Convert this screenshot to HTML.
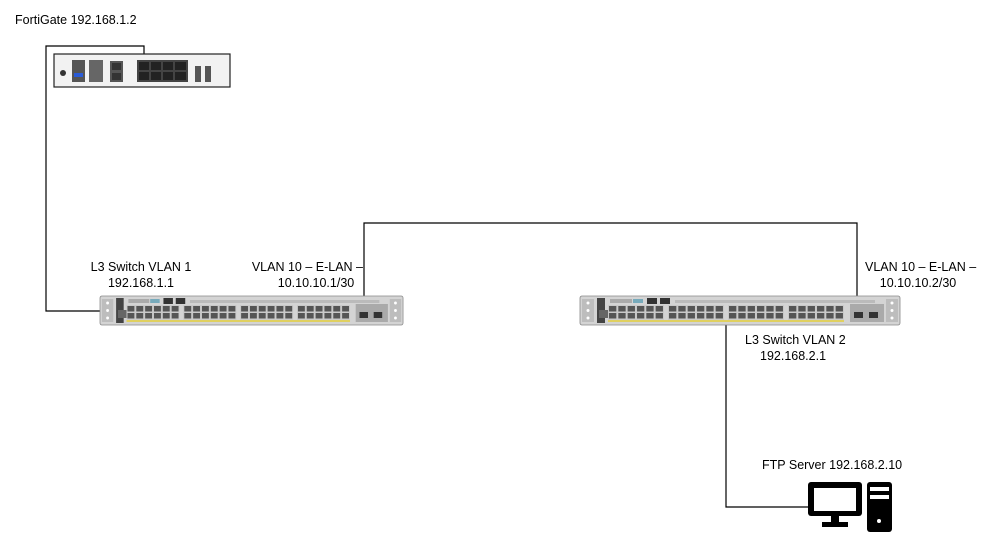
<!DOCTYPE html>
<html><head><meta charset="utf-8"><style>
html,body{margin:0;padding:0;background:#fff;}
svg{display:block;font-family:"Liberation Sans",sans-serif;font-size:12.5px;}
</style></head><body>
<svg width="999" height="558" viewBox="0 0 999 558" xmlns="http://www.w3.org/2000/svg">
<defs>
<pattern id="ports" x="0" y="0" width="9.33" height="15" patternUnits="userSpaceOnUse">
<rect width="9.33" height="15" fill="#c9c9c9"/>
<rect x="1" y="1" width="7.3" height="5.5" fill="#555"/>
<rect x="1" y="8" width="7.3" height="5.5" fill="#555"/>
</pattern>
<g id="sw">
<rect x="0" y="0" width="320" height="29" rx="2" fill="#d4d4d4" stroke="#888" stroke-width="0.8"/>
<rect x="2" y="3" width="12" height="23" fill="#bdbdbd"/>
<rect x="306" y="3" width="12" height="23" fill="#bdbdbd"/>
<circle cx="8" cy="7" r="1.5" fill="#fff"/><circle cx="8" cy="14.5" r="1.5" fill="#fff"/><circle cx="8" cy="22" r="1.5" fill="#fff"/>
<circle cx="312" cy="7" r="1.5" fill="#fff"/><circle cx="312" cy="14.5" r="1.5" fill="#fff"/><circle cx="312" cy="22" r="1.5" fill="#fff"/>
<rect x="17" y="2" width="8" height="25" fill="#444"/>
<rect x="19" y="14" width="10" height="8" fill="#666"/>
<rect x="30" y="3" width="22" height="4" fill="#aaa"/>
<rect x="53" y="3" width="10" height="4" fill="#7ab"/>
<rect x="67" y="2" width="10" height="6" fill="#333"/>
<rect x="80" y="2" width="10" height="6" fill="#333"/>
<rect x="95" y="4" width="200" height="3" fill="#bbb"/>
<g transform="translate(28,9)"><rect width="56" height="15" fill="url(#ports)"/></g>
<g transform="translate(88,9)"><rect width="56" height="15" fill="url(#ports)"/></g>
<g transform="translate(148,9)"><rect width="56" height="15" fill="url(#ports)"/></g>
<g transform="translate(208,9)"><rect width="56" height="15" fill="url(#ports)"/></g>
<rect x="28" y="24" width="236" height="2" fill="#e0d060"/>
<rect x="270" y="8" width="34" height="18" fill="#aaa"/>
<rect x="274" y="16" width="9" height="6" fill="#333"/>
<rect x="289" y="16" width="9" height="6" fill="#333"/>
</g>
</defs>
<g fill="none" stroke="#000" stroke-width="1.2">
<polyline points="144,62 144,46 46,46 46,311 112,311"/>
<polyline points="364,318 364,223 857,223 857,316"/>
<polyline points="726,318 726,507 808,507"/>
</g>
<!-- FortiGate -->
<rect x="54" y="54" width="176" height="33" fill="#f2f2f2" stroke="#222" stroke-width="1.2"/>
<circle cx="63" cy="73" r="3" fill="#333"/>
<rect x="72" y="60" width="13" height="22" fill="#555"/>
<rect x="74" y="73" width="9" height="4" fill="#2a5bd7"/>
<rect x="89" y="60" width="14" height="22" fill="#666"/>
<rect x="110" y="61" width="13" height="21" fill="#555"/>
<rect x="112" y="63" width="9" height="7" fill="#333"/><rect x="112" y="73" width="9" height="7" fill="#333"/>
<rect x="137" y="60" width="51" height="22" fill="#444"/>
<g fill="#222"><rect x="139" y="62" width="10" height="8"/><rect x="151" y="62" width="10" height="8"/><rect x="163" y="62" width="10" height="8"/><rect x="175" y="62" width="11" height="8"/>
<rect x="139" y="72" width="10" height="8"/><rect x="151" y="72" width="10" height="8"/><rect x="163" y="72" width="10" height="8"/><rect x="175" y="72" width="11" height="8"/></g>
<rect x="195" y="66" width="6" height="16" fill="#555"/>
<rect x="205" y="66" width="6" height="16" fill="#555"/>
<g transform="translate(100,296) scale(0.947,1)"><use href="#sw"/></g>
<g transform="translate(580,296)"><use href="#sw"/></g>
<!-- PC -->
<rect x="808" y="482" width="54" height="34" rx="3" fill="#000"/>
<rect x="814" y="488" width="42" height="23" fill="#fff"/>
<rect x="831" y="516" width="8" height="7" fill="#000"/>
<rect x="822" y="522" width="26" height="5" fill="#000"/>
<rect x="867" y="482" width="25" height="50" rx="3" fill="#000"/>
<rect x="870" y="487" width="19" height="4" fill="#fff"/>
<rect x="870" y="495" width="19" height="4" fill="#fff"/>
<circle cx="879" cy="521" r="2" fill="#fff"/>
<g fill="#000">
<text x="15" y="24">FortiGate 192.168.1.2</text>
<text x="141" y="271" text-anchor="middle">L3 Switch VLAN 1</text>
<text x="141" y="287" text-anchor="middle">192.168.1.1</text>
<text x="363" y="271" text-anchor="end">VLAN 10 – E-LAN –</text>
<text x="316" y="287" text-anchor="middle">10.10.10.1/30</text>
<text x="865" y="271">VLAN 10 – E-LAN –</text>
<text x="918" y="287" text-anchor="middle">10.10.10.2/30</text>
<text x="745" y="344">L3 Switch VLAN 2</text>
<text x="760" y="360">192.168.2.1</text>
<text x="762" y="469">FTP Server 192.168.2.10</text>
</g>
</svg>
</body></html>
